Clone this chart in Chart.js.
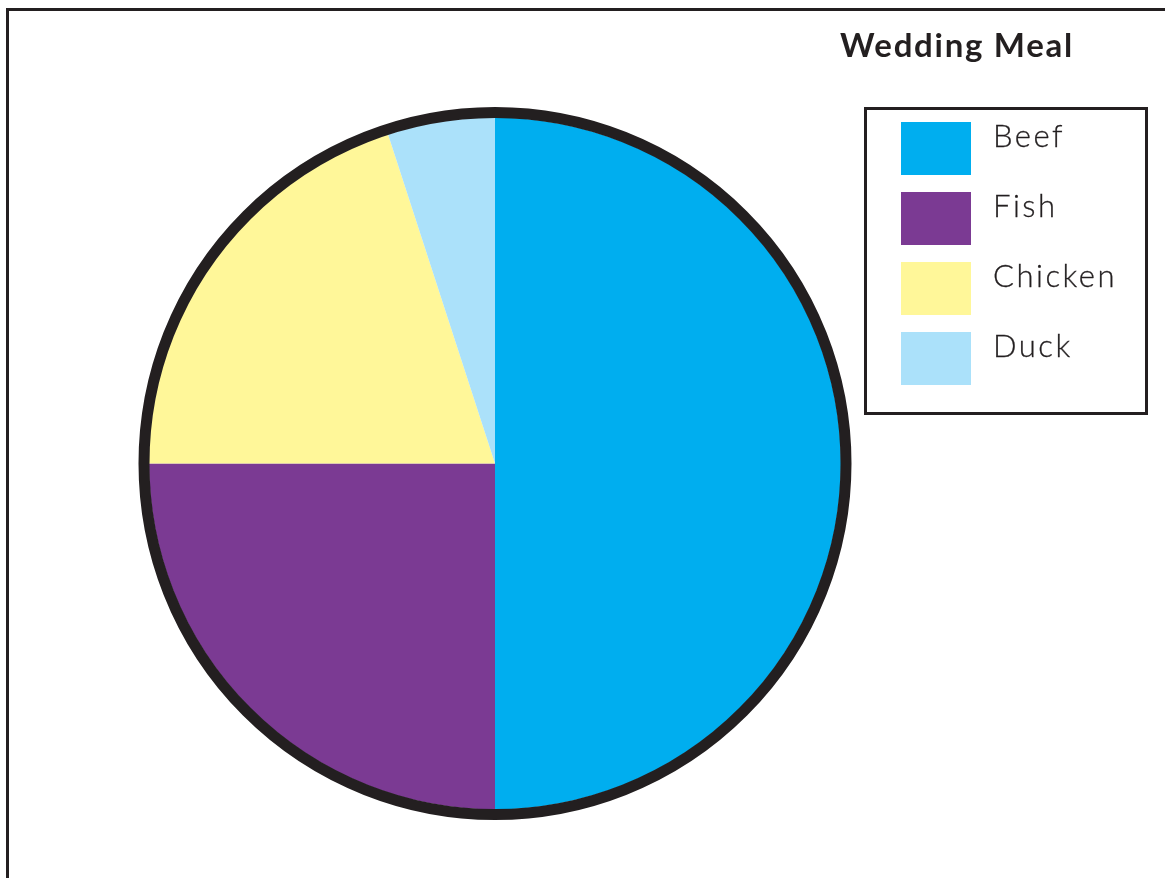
<!doctype html>
<html lang="en">
<head>
<meta charset="utf-8">
<title>Wedding Meal</title>
<script src="https://cdn.jsdelivr.net/npm/chart.js"></script>
<style>
  html, body { margin: 0; padding: 0; background: #fff; }
  body { width: 1165px; height: 878px; position: relative; overflow: hidden; }
  #frame { position: absolute; left: 6px; top: 8px; width: 1200px; height: 900px;
           border-top: 3px solid #231f20; border-left: 3px solid #231f20; }
  #chartWrap { position: absolute; left: 0; top: 0; width: 1165px; height: 878px; }
  #title { position: absolute; left: 840px; top: 24px; font-family: Lato, sans-serif;
           font-weight: bold; font-size: 33px; color: #231f20; letter-spacing: 1.7px; }
  #legend { position: absolute; left: 864px; top: 107px; width: 278px; height: 302px;
            border: 3px solid #231f20; }
  .sw { position: absolute; left: 34px; width: 70px; height: 53px; }
  .lb { position: absolute; left: 126px; font-family: Lato, sans-serif; font-weight: 300;
        font-size: 31px; line-height: 31px; color: #231f20; letter-spacing: 2.5px;
        -webkit-text-stroke: 0.3px #231f20; }
</style>
</head>
<body>
<div id="frame"></div>
<div id="chartWrap"><canvas id="pie" width="1165" height="878"></canvas></div>
<div id="title">Wedding Meal</div>
<div id="legend"></div>

<script>
var meals = ['Beef', 'Fish', 'Chicken', 'Duck'];
var guests = [50, 25, 20, 5];
var mealColors = ['#00aeef', '#7b3a93', '#fff799', '#abe1fa'];

// thick dark ring round the outside of the pie only
var outerRing = {
  id: 'outerRing',
  afterDatasetsDraw: function (chart) {
    var arc = chart.getDatasetMeta(0).data[0];
    var ctx = chart.ctx;
    ctx.save();
    ctx.beginPath();
    ctx.arc(arc.x, arc.y, arc.outerRadius + 5, 0, Math.PI * 2);
    ctx.lineWidth = 11;
    ctx.strokeStyle = '#231f20';
    ctx.stroke();
    ctx.restore();
  }
};

new Chart(document.getElementById('pie').getContext('2d'), {
  type: 'pie',
  data: {
    labels: meals,
    datasets: [{
      data: guests,
      backgroundColor: mealColors,
      borderWidth: 0
    }]
  },
  options: {
    responsive: false,
    animation: false,
    layout: { padding: { left: 149, right: 324, top: 117, bottom: 68 } },
    plugins: { legend: { display: false }, title: { display: false }, tooltip: { enabled: false } }
  },
  plugins: [outerRing]
});

// legend box
var legend = document.getElementById('legend');
meals.forEach(function (m, i) {
  var top = 12 + i * 70;
  var sw = document.createElement('div');
  sw.className = 'sw';
  sw.style.top = top + 'px';
  sw.style.background = mealColors[i];
  legend.appendChild(sw);
  var lb = document.createElement('div');
  lb.className = 'lb';
  lb.style.top = (top - 2) + 'px';
  lb.textContent = m;
  legend.appendChild(lb);
});
</script>
</body>
</html>
